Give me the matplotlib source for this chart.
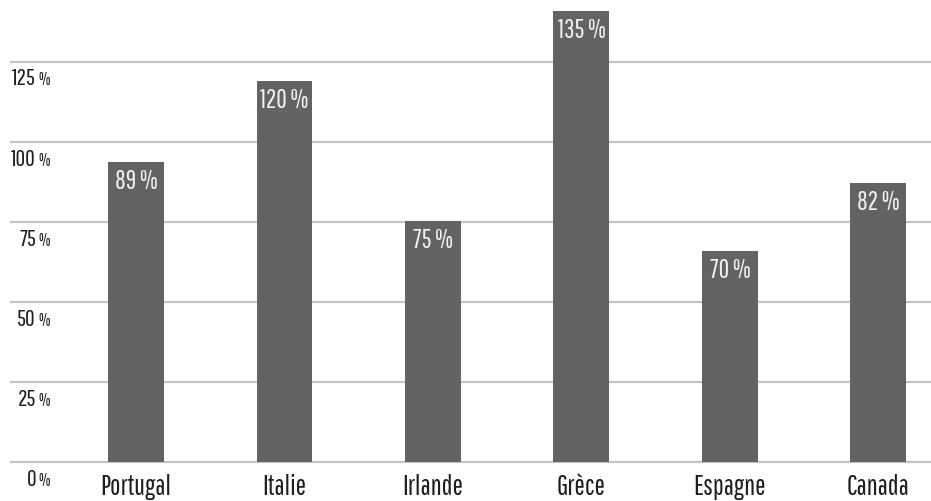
import matplotlib
matplotlib.use("Agg")
import matplotlib.pyplot as plt
import matplotlib.transforms as mtransforms

# données
pays = ["Portugal", "Italie", "Irlande", "Grèce", "Espagne", "Canada"]
hauteurs = [93.7, 119.0, 75.3, 140.8, 65.9, 87.2]  # hauteur des barres (%)
etiquettes = ["89 %", "120 %", "75 %", "135 %", "70 %", "82 %"]  # texte affiché dans les barres
graduations = [0, 25, 50, 75, 100, 125]
graduations_txt = ["0", "25", "50", "75", "100", "125"]

plt.rcParams["font.family"] = ["Pathway Gothic One", "DejaVu Sans"]

fig = plt.figure(figsize=(9.31, 5.01), dpi=100)
ax = fig.add_axes([11 / 931, (501 - 462.3) / 501, 920 / 931, 462.3 / 501])

index = list(range(len(pays)))
ax.bar(index, hauteurs, 0.377, color="#636363", zorder=3)

ax.set_xlim(-0.842, 5.354)
ax.set_ylim(0, 144.3)

# lignes horizontales
for g in graduations:
    ax.axhline(g, color="#c4c4c4", lw=1.6, zorder=1, clip_on=False)

for s in ax.spines.values():
    s.set_visible(False)
ax.set_xticks([])
ax.set_yticks([])

# graduations : nombre + petit %, sous chaque ligne
trans = mtransforms.blended_transform_factory(fig.transFigure, ax.transData)
for g, t in zip(graduations, graduations_txt):
    ax.annotate(t, (36 / 931, g), xycoords=trans, xytext=(0, -17), textcoords="offset points",
                ha="right", va="baseline", fontsize=17, color="#1e1e1e", annotation_clip=False)
    ax.annotate("%", (49.5 / 931, g), xycoords=trans, xytext=(0, -17), textcoords="offset points",
                ha="right", va="baseline", fontsize=12, color="#1e1e1e", annotation_clip=False)

# noms des pays sous l'axe
for i, p in zip(index, pays):
    ax.annotate(p, (i, 0), xytext=(0, -23.5), textcoords="offset points",
                ha="center", va="baseline", fontsize=20, color="#1e1e1e",
                annotation_clip=False)

# valeurs dans les barres
for i, h, e in zip(index, hauteurs, etiquettes):
    ax.annotate(e, (i, h), xytext=(0, -19.5), textcoords="offset points",
                ha="center", va="baseline", fontsize=18.5, color="#f2f2f2", zorder=4)

fig.savefig("out.png", dpi=100)
